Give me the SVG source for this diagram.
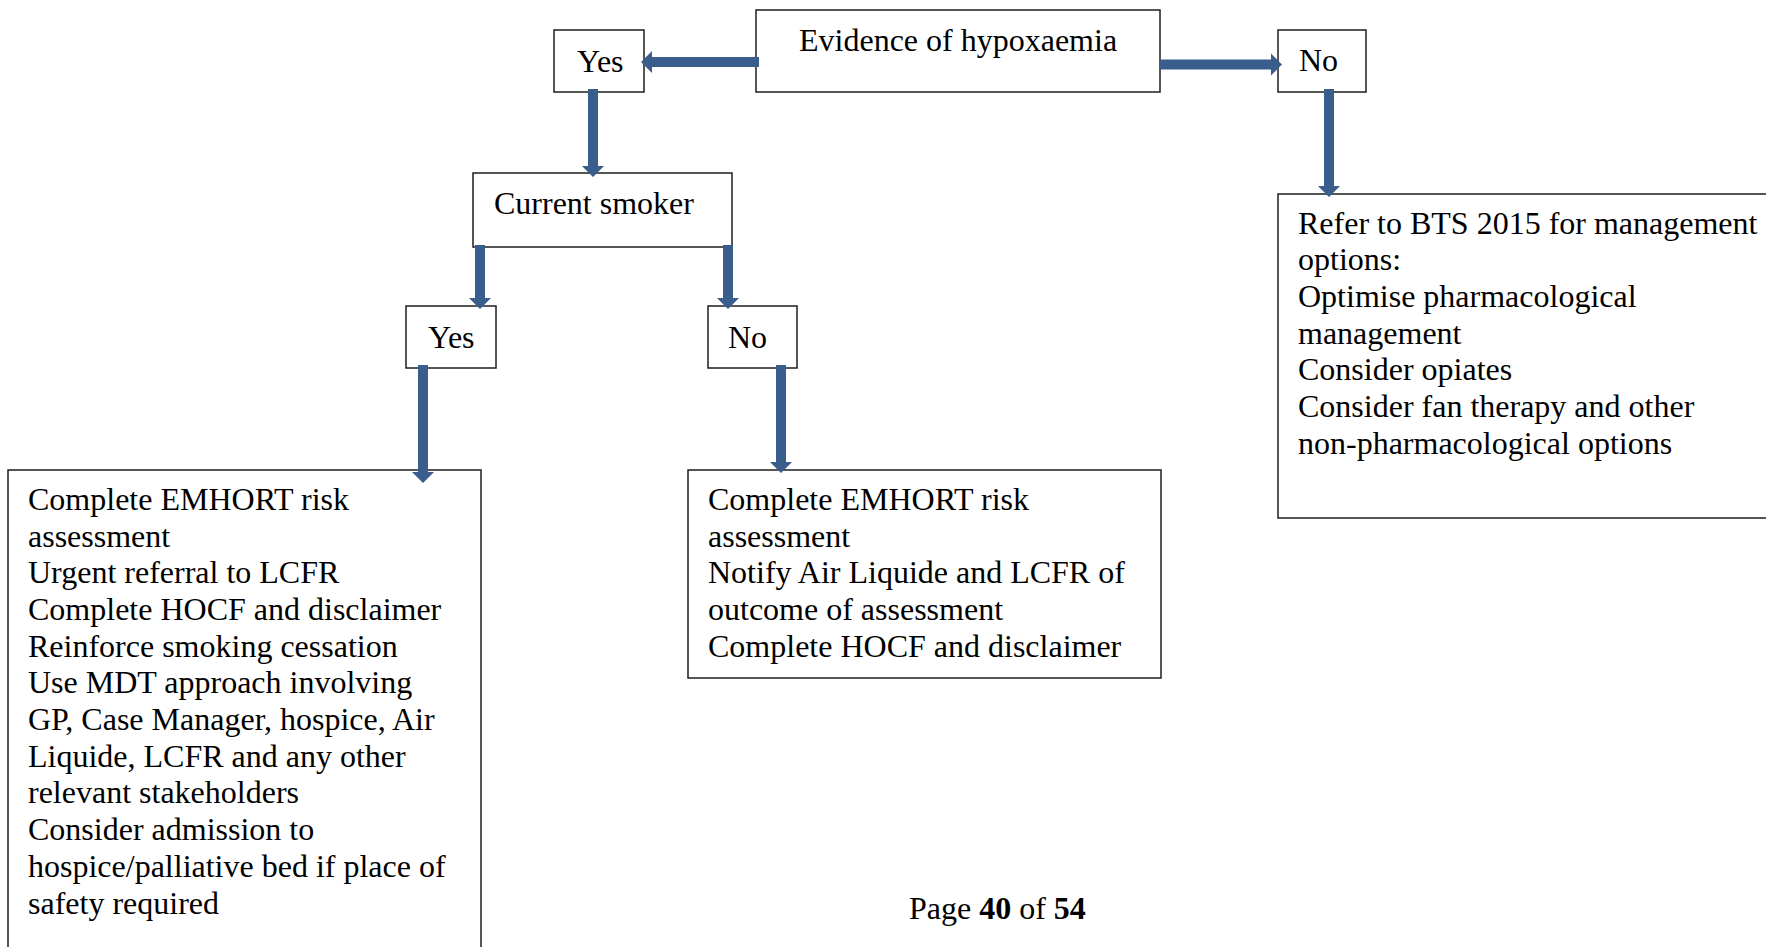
<svg xmlns="http://www.w3.org/2000/svg" width="1766" height="947" viewBox="0 0 1766 947">
  <style>
    .box { fill: #ffffff; stroke: #1e1e1e; stroke-width: 1.5; }
    .t { font-family: "Liberation Serif", "Times New Roman", serif; font-size: 32px; fill: #000000; }
    .b { font-weight: bold; }
    .arrow { fill: #3a5e8c; }
  </style>
  <rect width="1766" height="947" fill="#ffffff"/>

  <!-- decision: hypoxaemia -->
  <g id="node-hypoxaemia">
    <rect class="box" x="756" y="10" width="404" height="82"/>
    <text class="t" x="799" y="51">Evidence of hypoxaemia</text>
  </g>
  <g id="node-yes-top">
    <rect class="box" x="554" y="30" width="90" height="62"/>
    <text class="t" x="577" y="72">Yes</text>
  </g>
  <g id="node-no-top">
    <rect class="box" x="1278" y="30" width="88" height="62"/>
    <text class="t" x="1299" y="70.5">No</text>
  </g>

  <!-- decision: smoking -->
  <g id="node-smoker">
    <rect class="box" x="473" y="173" width="259" height="74"/>
    <text class="t" x="494" y="214">Current smoker</text>
  </g>
  <g id="node-yes-smoker">
    <rect class="box" x="406" y="306" width="90" height="62"/>
    <text class="t" x="428" y="347.5">Yes</text>
  </g>
  <g id="node-no-smoker">
    <rect class="box" x="708" y="306" width="89" height="62"/>
    <text class="t" x="728" y="347.5">No</text>
  </g>

  <!-- outcome: smoker -->
  <g id="node-smoker-actions">
    <rect class="box" x="8" y="470" width="473" height="500"/>
    <text class="t" x="28" y="509.8">Complete EMHORT risk</text>
    <text class="t" x="28" y="546.5">assessment</text>
    <text class="t" x="28" y="583.2">Urgent referral to LCFR</text>
    <text class="t" x="28" y="619.9">Complete HOCF and disclaimer</text>
    <text class="t" x="28" y="656.6">Reinforce smoking cessation</text>
    <text class="t" x="28" y="693.3">Use MDT approach involving</text>
    <text class="t" x="28" y="730">GP, Case Manager, hospice, Air</text>
    <text class="t" x="28" y="766.7">Liquide, LCFR and any other</text>
    <text class="t" x="28" y="803.4">relevant stakeholders</text>
    <text class="t" x="28" y="840.1">Consider admission to</text>
    <text class="t" x="28" y="876.8">hospice/palliative bed if place of</text>
    <text class="t" x="28" y="913.5">safety required</text>
  </g>

  <!-- outcome: non-smoker -->
  <g id="node-nonsmoker-actions">
    <rect class="box" x="688" y="470" width="473" height="208"/>
    <text class="t" x="708" y="509.8">Complete EMHORT risk</text>
    <text class="t" x="708" y="546.5">assessment</text>
    <text class="t" x="708" y="583.2">Notify Air Liquide and LCFR of</text>
    <text class="t" x="708" y="619.9">outcome of assessment</text>
    <text class="t" x="708" y="656.6">Complete HOCF and disclaimer</text>
  </g>

  <!-- outcome: no hypoxaemia -->
  <g id="node-bts">
    <rect class="box" x="1278" y="194" width="510" height="324"/>
    <text class="t" x="1298" y="233.5">Refer to BTS 2015 for management</text>
    <text class="t" x="1298" y="270.2">options:</text>
    <text class="t" x="1298" y="306.9">Optimise pharmacological</text>
    <text class="t" x="1298" y="343.6">management</text>
    <text class="t" x="1298" y="380.3">Consider opiates</text>
    <text class="t" x="1298" y="417">Consider fan therapy and other</text>
    <text class="t" x="1298" y="453.7">non-pharmacological options</text>
  </g>

  <!-- block arrows -->
  <g id="connectors">
    <polygon class="arrow" points="759,57 652,57 652,51 641,62 652,73 652,67 759,67"/>
    <polygon class="arrow" points="1160,59.5 1271,59.5 1271,53.5 1282,64.5 1271,75.5 1271,69.5 1160,69.5"/>
    <polygon class="arrow" points="588,89 588,166 582,166 593,177 604,166 598,166 598,89"/>
    <polygon class="arrow" points="475,245 475,298 469,298 480,309 491,298 485,298 485,245"/>
    <polygon class="arrow" points="723,245 723,298 717,298 728,309 739,298 733,298 733,245"/>
    <polygon class="arrow" points="418,365 418,472 412,472 423,483 434,472 428,472 428,365"/>
    <polygon class="arrow" points="776,365 776,462 770,462 781,473 792,462 786,462 786,365"/>
    <polygon class="arrow" points="1324,89 1324,186 1318,186 1329,197 1340,186 1334,186 1334,89"/>
  </g>

  <!-- page footer -->
  <text class="t" x="909" y="919">Page <tspan class="b">40</tspan> of <tspan class="b">54</tspan></text>
</svg>
